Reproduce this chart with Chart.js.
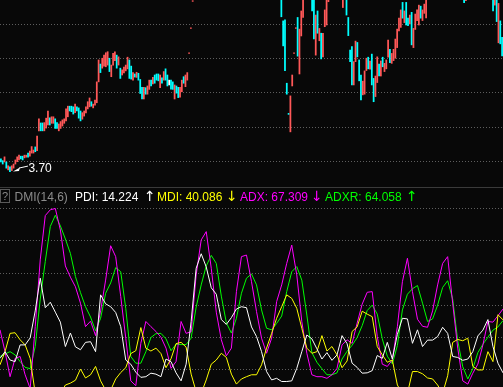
<!DOCTYPE html>
<html>
<head>
<meta charset="utf-8">
<script src="https://cdn.jsdelivr.net/npm/chart.js@4.4.1/dist/chart.umd.min.js"></script>
<style>
  html, body { margin: 0; padding: 0; background: #080808; }
  #wrap { position: relative; width: 503px; height: 387px; overflow: hidden; background: #080808;
          font-family: "Liberation Sans", Arial, sans-serif; }
  #price { position: absolute; left: 0; top: 0; }
  #dmi { position: absolute; left: 0; top: 187px; }
  #divider { position: absolute; left: 0; top: 187px; width: 503px; height: 1px; background: #3a3a3a; }
  .hdr { position: absolute; top: 189.5px; font-size: 12px; line-height: 14px; white-space: nowrap; }
  .arr { position: absolute; top: 189px; font-family: "DejaVu Sans", sans-serif; font-size: 14px; line-height: 14px; }
  #qbox { position: absolute; left: 0; top: 189px; width: 8px; height: 12px; border: 1px solid #5a5a5a;
          color: #8a8a8a; font-size: 11px; line-height: 12px; text-align: center; }
  #lowLabel { position: absolute; color: #fff; font-size: 12px; line-height: 12px; white-space: nowrap; }
</style>
</head>
<body>
<div id="wrap">
  <canvas id="price" width="503" height="187"></canvas>
  <canvas id="dmi" width="503" height="200"></canvas>
  <div id="divider"></div>
  <div id="qbox">?</div>
  <span class="hdr" style="left:14.5px;color:#8c8c8c">DMI(14,6)</span>
  <span class="hdr" style="left:75px;color:#ffffff">PDI: 14.224</span>
  <span class="arr" style="left:144px;color:#ffffff">↑</span>
  <span class="hdr" style="left:157px;color:#ffff00">MDI: 40.086</span>
  <span class="arr" style="left:226px;color:#ffff00">↓</span>
  <span class="hdr" style="left:240px;color:#ff00ff">ADX: 67.309</span>
  <span class="arr" style="left:311px;color:#ff00ff">↓</span>
  <span class="hdr" style="left:325px;color:#00ff00">ADXR: 64.058</span>
  <span class="arr" style="left:406px;color:#00ff00">↑</span>
  <div id="lowLabel">3.70</div>
</div>
<script>
/* ---------- Data ---------- */

// bars above the visible price range are left empty
const off = n => Array(n).fill(null);

const high = [
  4.07, 4.02, 4.13, 3.98, 3.87, 3.84, 3.87, 3.92, 4.04, 4.13,
  4.18, 4.15, 4.15, 4.18, 4.18, 4.24, 4.30, 4.43, 4.33, 4.42,
  4.74, 5.24, 5.12, 5.12, 5.13, 5.26, 5.47, 5.27, 5.30, 5.30,
  5.24, 5.13, 5.09, 5.16, 5.21, 5.24, 5.53, 5.61, 5.61, 5.61,
  5.59, 5.67, 5.59, 5.56, 5.47, 5.42, 5.47, 5.59, 5.74, 5.85,
  5.74, 5.67, 5.79, 6.32, 6.96, 6.84, 7.01, 7.10, 7.17, 7.20,
  7.01, 6.81, 7.15, 7.20, 7.10, 7.05, 6.72, 6.67, 6.75, 6.81,
  7.04, 6.96, 6.78, 6.59, 6.55, 6.60, 6.57, 6.39, 6.16, 6.16,
  6.15, 6.20, 6.37, 6.37, 6.45, 6.52, 6.55, 6.55, 6.52, 6.44,
  6.62, 6.70, 6.52, 6.37, 6.37, 6.32, 6.23, 6.20, 6.16, 6.16,
  6.37, 6.47, 6.52, 6.59,
  7.17, 7.90, 8.69,
  ...off(48),
  9.2, 8.10, 8.13, 6.28, 5.40, 5.91, 6.52, 7.17, 7.90, 8.20, 7.86, 8.39, 9.2,
  ...off(4),
  9.2, 9.2, 8.27, 8.39, 7.88, 7.74, 7.74, 8.42, 9.2, 9.2,
  ...off(7),
  9.2,
  ...off(1),
  9.2, 8.20, 7.25, 7.35, 6.91, 7.51, 7.47, 6.96, 6.52, 6.34,
  6.64, 7.01, 7.04, 6.93, 7.13, 6.42, 6.49, 7.05, 6.84, 6.93,
  7.04, 6.86, 6.96, 7.54, 7.27, 7.15, 7.27, 7.57, 7.86, 8.18,
  8.42, 8.64, 8.39, 8.64, 8.18, 8.27, 8.35, 7.88, 8.30, 8.42,
  8.56, 8.53, 8.42, 8.59, 9.2,
  ...off(20),
  9.2, 9.2,
  ...off(14),
  9.2, 9.2, 9.2, 8.61, 8.10, 7.62
];

const low = [
  3.98, 3.92, 3.98, 3.80, 3.75, 3.70, 3.73, 3.80, 3.92, 3.99,
  4.04, 4.07, 4.04, 4.10, 4.12, 4.12, 4.15, 4.24, 4.24, 4.28,
  4.31, 4.89, 4.89, 4.89, 4.89, 4.97, 5.06, 5.06, 5.11, 5.11,
  4.96, 4.96, 4.89, 4.96, 5.03, 5.11, 5.18, 5.30, 5.47, 5.45,
  5.38, 5.42, 5.47, 5.26, 5.18, 5.23, 5.32, 5.41, 5.53, 5.59,
  5.61, 5.56, 5.64, 5.71, 6.32, 6.59, 6.72, 6.78, 6.76, 6.81,
  6.62, 6.47, 6.81, 6.94, 6.72, 6.81, 6.42, 6.52, 6.58, 6.64,
  6.70, 6.42, 6.40, 6.37, 6.46, 6.45, 6.37, 5.98, 5.82, 5.82,
  5.96, 5.96, 6.10, 6.20, 6.26, 6.28, 6.37, 6.35, 6.15, 6.28,
  6.37, 6.37, 6.20, 6.23, 6.11, 6.10, 5.82, 5.99, 5.86, 5.87,
  6.03, 6.28, 6.18, 6.37,
  7.15, 7.88, 8.67,
  ...off(48),
  8.22, 7.37, 6.65, 5.96, 5.37, 4.86, 6.20, 7.15, 7.88, 7.07, 6.55, 7.66, 8.20,
  ...off(4),
  8.39, 7.57, 7.10, 7.74, 7.52, 6.99, 7.05, 7.93, 7.98, 8.66,
  ...off(7),
  8.49,
  ...off(1),
  8.27, 7.67, 6.91, 6.23, 6.23, 6.91, 7.05, 6.35, 5.79, 5.94,
  5.96, 6.65, 6.70, 6.69, 6.23, 5.74, 5.89, 6.30, 6.49, 6.49,
  6.76, 6.62, 6.70, 7.04, 6.88, 6.86, 6.94, 7.01, 7.32, 7.81,
  7.91, 8.18, 8.05, 7.98, 7.96, 8.01, 7.40, 7.32, 7.85, 8.11,
  7.98, 8.18, 8.11, 8.32, 8.19,
  ...off(20),
  8.63, 8.69,
  ...off(14),
  8.39, 8.56, 8.08, 7.46, 7.43, 7.08
];

// 1 = up (red), -1 = down (cyan), 0 = flat (white)
const updown = [
  -1, -1, 1, -1, 1, -1, 1, 1, 1, 1,
  1, -1, -1, 1, 1, -1, 1, 1, 1, -1,
  1, 1, -1, -1, 1, 1, 1, -1, 1, 1,
  -1, -1, 1, 1, 1, 1, 1, 1, -1, -1,
  -1, 1, -1, -1, -1, 1, 1, 1, 1, 1,
  -1, 1, 1, 1, 1, -1, 1, 1, 1, 1,
  -1, 1, 1, 1, -1, 1, -1, 1, 1, 1,
  1, -1, -1, 1, -1, 1, -1, -1, -1, 1,
  -1, 1, 1, -1, 1, -1, -1, -1, 1, -1,
  1, -1, -1, 0, -1, -1, 1, -1, -1, 1,
  1, -1, 1, 1,
  1, 1, 1,
  ...off(48),
  -1, -1, -1, -1, -1, 1, 1, 1, 1, -1, 1, 1, 1,
  ...off(4),
  -1, -1, 1, -1, 1, -1, 1, 1, 1, 1,
  ...off(7),
  1,
  ...off(1),
  -1, -1, -1, -1, 1, 1, -1, -1, -1, 1,
  1, 1, -1, 1, -1, -1, 1, 1, -1, 1,
  -1, 1, 1, 1, -1, 1, 1, 1, 1, 1,
  1, -1, 1, -1, -1, 1, -1, 1, 1, 1,
  1, -1, 1, 1, 1,
  ...off(20),
  -1, 1,
  ...off(14),
  -1, 1, -1, 1, -1, -1
];

const LOW_INDEX = 5;   // bar carrying the 3.70 low

const pdi = [
  13.4, 15.5, 12.9, 12.4, 17.6, 17.6, 19.8, 28.2, 38.4, 29.2,
  30.9, 27.8, 24.7, 17.1, 21.3, 17.0, 16.1, 18.4, 18.6, 15.5,
  33.2, 30.4, 29.5, 27.7, 23.3, 12.9, 11.6, 9.1, 7.5, 7.7,
  8.8, 8.5, 7.7, 13.2, 12.4, 8.9, 6.4, 11.6, 24.9, 41.5,
  46.0, 41.9, 35.4, 33.4, 25.5, 24.0, 26.1, 28.8, 29.5, 29.2,
  23.2, 20.2, 15.5, 9.3, 6.7, 7.2, 6.2, 6.2, 6.4, 10.3,
  15.5, 20.7, 19.5, 16.4, 13.2, 15.2, 12.8, 14.5, 20.5, 18.0,
  11.9, 10.6, 8.8, 8.9, 9.6, 14.3, 13.4, 18.4, 13.2, 20.9,
  25.9, 25.7, 18.1, 22.3, 17.1, 19.1, 19.1, 20.2, 23.1, 21.2,
  14.0, 13.7, 12.8, 13.2, 15.5, 20.4, 22.2, 25.5, 17.1, 11.9,
  8.9
];

const mdi = [
  11.4, 15.5, 21.2, 21.4, 19.2, 17.6, 13.4, 2.5, 2.0, 2.0,
  2.0, 2.0, 2.5, 5.1, 5.7, 6.6, 10.1, 7.3, 8.3, 10.9,
  6.4, 3.5, 3.5, 7.0, 9.0, 10.5, 14.9, 15.8, 23.0, 16.6,
  15.7, 16.6, 14.9, 10.5, 13.3, 18.0, 18.4, 16.9, 8.5, 3.0,
  2.5, 6.7, 11.6, 12.9, 15.0, 13.7, 8.5, 5.4, 7.0, 7.7,
  8.3, 8.3, 11.4, 16.6, 21.2, 25.9, 29.5, 33.2, 32.1, 29.0,
  22.8, 16.6, 15.0, 15.5, 20.5, 15.7, 17.1, 14.5, 10.5, 12.6,
  21.8, 23.2, 28.1, 27.2, 26.4, 17.1, 14.5, 12.2, 12.9, 5.1,
  2.5, 2.5, 9.3, 9.3, 8.6, 7.3, 7.0, 5.1, 2.5, 8.0,
  18.4, 19.3, 18.9, 19.7, 10.9, 9.8, 9.8, 15.5, 12.4, 27.0,
  25.4
];

const adx = [
  22.3, 15.5, 7.7, 13.4, 14.0, 8.3, 4.0, 23.3, 44.1, 57.9,
  59.7, 60.1, 53.4, 42.2, 38.7, 35.7, 30.6, 23.3, 25.0, 20.5,
  28.2, 37.8, 48.5, 45.1, 32.7, 19.7, 6.4, 4.9, 18.1, 24.9,
  23.3, 21.8, 20.0, 16.6, 10.3, 12.4, 24.9, 21.2, 21.7, 39.4,
  50.3, 52.9, 41.5, 27.8, 19.2, 14.2, 16.6, 34.2, 45.1, 45.6,
  37.3, 28.0, 19.7, 15.0, 19.7, 31.1, 36.3, 43.0, 48.7, 39.4,
  24.9, 15.0, 8.3, 7.7, 7.7, 7.2, 8.3, 10.3, 17.6, 19.2,
  18.1, 24.4, 30.3, 34.0, 34.2, 20.2, 11.6, 10.9, 12.9, 23.3,
  37.3, 44.6, 34.2, 25.6, 23.4, 23.1, 28.2, 36.3, 43.0, 45.1,
  30.6, 16.6, 6.4, 5.4, 8.8, 11.6, 17.6, 24.9, 24.7, 26.7,
  28.8
];

const adxr = [
  14.0, 14.8, 15.5, 14.5, 12.4, 10.6, 10.2, 17.1, 31.9, 43.6,
  54.5, 58.0, 54.7, 50.6, 46.1, 38.9, 33.9, 29.5, 26.3, 22.0,
  25.9, 33.7, 36.9, 41.7, 40.4, 29.0, 14.0, 11.9, 11.9, 15.5,
  19.9, 21.1, 21.2, 19.5, 15.8, 17.8, 17.7, 17.7, 19.7, 29.4,
  36.3, 42.2, 45.5, 43.0, 32.8, 24.5, 21.3, 25.9, 33.7, 38.4,
  39.7, 36.3, 28.5, 22.8, 22.3, 24.3, 26.6, 34.2, 40.4, 42.0,
  37.8, 26.9, 15.2, 12.2, 10.2, 8.3, 8.3, 8.9, 13.2, 15.6,
  17.5, 19.9, 23.6, 28.3, 30.0, 27.2, 19.5, 14.1, 11.7, 17.4,
  28.5, 33.4, 35.1, 36.1, 30.6, 24.9, 25.7, 30.0, 35.5, 37.6,
  31.9, 18.9, 10.8, 7.0, 10.2, 15.2, 17.8, 20.0, 22.2, 23.2,
  25.2
];

/* ---------- Style ---------- */

const UP = "#ff5858";
const DOWN = "#00ffff";
const FLAT = "#ffffff";
const GRID = "#5e5e5e";

const dotted = (isLine) => ({
    grid: {
        color: ctx => isLine(ctx.tick.value) ? GRID : "transparent",
        drawTicks: false,
        lineWidth: 1
    },
    border: { display: false, dash: [1, 2] }
});

/* ---------- Low marker ---------- */

const lowMarker = {
    id: "lowMarker",
    afterDraw(chart) {
        const x = chart.scales.x.getPixelForValue(LOW_INDEX);
        const y = chart.scales.y.getPixelForValue(low[LOW_INDEX]);
        const c = chart.ctx;
        c.save();
        c.fillStyle = "#fff";
        c.strokeStyle = "#fff";
        c.lineWidth = 1;
        c.beginPath();
        c.moveTo(x + 3, y);
        c.lineTo(x + 10, y - 4);
        c.lineTo(x + 9, y - 0.5);
        c.closePath();
        c.fill();
        c.beginPath();
        c.moveTo(x + 9, y - 3.5);
        c.lineTo(x + 18, y - 5.5);
        c.stroke();
        c.restore();
        const lab = document.getElementById("lowLabel");
        lab.style.left = (x + 18.5) + "px";
        lab.style.top = (y - 9.5) + "px";
    }
};

/* ---------- Charts ---------- */

new Chart(document.getElementById("price"), {
    type: "bar",
    data: {
        labels: high.map((_, i) => i),
        datasets: [{
            data: high.map((h, i) => h == null ? null : [low[i], h]),
            backgroundColor: updown.map(d => d > 0 ? UP : d < 0 ? DOWN : FLAT),
            borderWidth: 0,
            barThickness: 1.1
        }]
    },
    options: {
        responsive: false,
        animation: false,
        devicePixelRatio: 1,
        events: [],
        plugins: { legend: { display: false }, tooltip: { enabled: false } },
        scales: {
            x: { display: false },
            y: Object.assign({
                min: 3.25,
                max: 8.71,
                ticks: { display: false, stepSize: 1 }
            }, dotted(v => Number.isInteger(v)))
        }
    },
    plugins: [lowMarker]
});

const line = (data, color) => ({
    data, borderColor: color, borderWidth: 1, pointRadius: 0, tension: 0
});

new Chart(document.getElementById("dmi"), {
    type: "line",
    data: {
        labels: pdi.map((_, i) => i),
        datasets: [
            line(pdi, "#ffffff"),
            line(mdi, "#ffff00"),
            line(adx, "#ff00ff"),
            line(adxr, "#00ff00")
        ]
    },
    options: {
        responsive: false,
        animation: false,
        devicePixelRatio: 1,
        events: [],
        plugins: { legend: { display: false }, tooltip: { enabled: false } },
        scales: {
            x: { display: false },
            y: Object.assign({
                min: 4.49,
                max: 66.8,
                ticks: { display: false, stepSize: 10 }
            }, dotted(v => v % 10 === 0))
        }
    }
});
</script>
</body>
</html>
